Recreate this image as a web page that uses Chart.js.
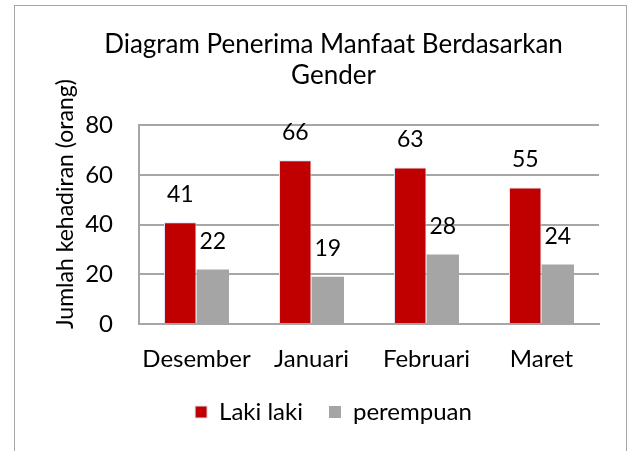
<!DOCTYPE html>
<html>
<head>
<meta charset="utf-8">
<script src="https://cdn.jsdelivr.net/npm/chart.js@4"></script>
<style>
  html, body { margin: 0; padding: 0; background: #fff; overflow: hidden; }
  #wrap { position: relative; width: 634px; height: 451px; }
  #frame { position: absolute; left: 14px; top: 5px; width: 613px; height: 460px; border: 1px solid #a6a6a6; box-sizing: border-box; }
  canvas { position: absolute; left: 0; top: 0; }
</style>
</head>
<body>
<div id="wrap">
  <div id="frame"></div>
  <canvas id="genderChart" width="634" height="451"></canvas>
</div>
<script>
const months = ['Desember', 'Januari', 'Februari', 'Maret'];
const lakiLaki = [41, 66, 63, 55];
const perempuan = [22, 19, 28, 24];
const yTicks = [0, 20, 40, 60, 80];

const FONT = 'Lato, "Open Sans", sans-serif';

// value labels drawn above each bar
const barLabels = {
    id: 'barLabels',
    afterDatasetsDraw(chart) {
        const ctx = chart.ctx;
        ctx.save();
        ctx.font = '23px ' + FONT;
        ctx.fillStyle = '#000';
        ctx.textAlign = 'center';
        ctx.textBaseline = 'middle';
        chart.data.datasets.forEach((ds, i) => {
            chart.getDatasetMeta(i).data.forEach((bar, j) => {
                ctx.fillText(String(ds.data[j]), bar.x, bar.y - 28);
            });
        });
        ctx.restore();
    }
};

const ctx = document.getElementById('genderChart').getContext('2d');
new Chart(ctx, {
    type: 'bar',
    data: {
        labels: months,
        datasets: [{
            label: 'Laki laki',
            data: lakiLaki,
            backgroundColor: '#c00000',
            borderColor: '#dae3f3',
            borderWidth: 1
        }, {
            label: 'perempuan',
            data: perempuan,
            backgroundColor: '#a5a5a5',
            borderColor: '#a5a5a5',
            borderWidth: 0
        }]
    },
    options: {
        responsive: false,
        animation: false,
        layout: { padding: { left: 68, right: 35, top: 29, bottom: 17 } },
        datasets: { bar: { categoryPercentage: 0.565, barPercentage: 1 } },
        plugins: {
            title: {
                display: true,
                text: ['Diagram Penerima Manfaat Berdasarkan', 'Gender'],
                color: '#000',
                font: { family: FONT, size: 26, weight: 'normal', lineHeight: 1.2 },
                padding: { top: 0, bottom: 34 }
            },
            legend: {
                position: 'bottom',
                labels: {
                    color: '#000',
                    font: { family: FONT, size: 24 },
                    boxWidth: 12,
                    boxHeight: 12,
                    padding: 26
                }
            },
            tooltip: { enabled: false }
        },
        scales: {
            x: {
                afterFit(axis) { axis.height = 50; },
                grid: { display: false },
                border: { color: '#a6a6a6', width: 2 },
                ticks: { color: '#000', font: { family: FONT, size: 24 }, padding: 13, maxRotation: 0, autoSkip: false }
            },
            y: {
                min: 0,
                max: 80,
                afterBuildTicks(axis) { axis.ticks = yTicks.map(v => ({ value: v })); },
                afterFit(axis) { axis.width = 71; },
                grid: { color: '#a6a6a6', lineWidth: 2, drawTicks: false },
                border: { color: '#a6a6a6', width: 2 },
                ticks: { color: '#000', font: { family: FONT, size: 24 }, padding: 26 },
                title: {
                    display: true,
                    text: '       Jumlah kehadiran (orang)',
                    color: '#000',
                    font: { family: FONT, size: 23 },
                    padding: { top: -16, bottom: 0 }
                }
            }
        }
    },
    plugins: [barLabels]
});
</script>
</body>
</html>
